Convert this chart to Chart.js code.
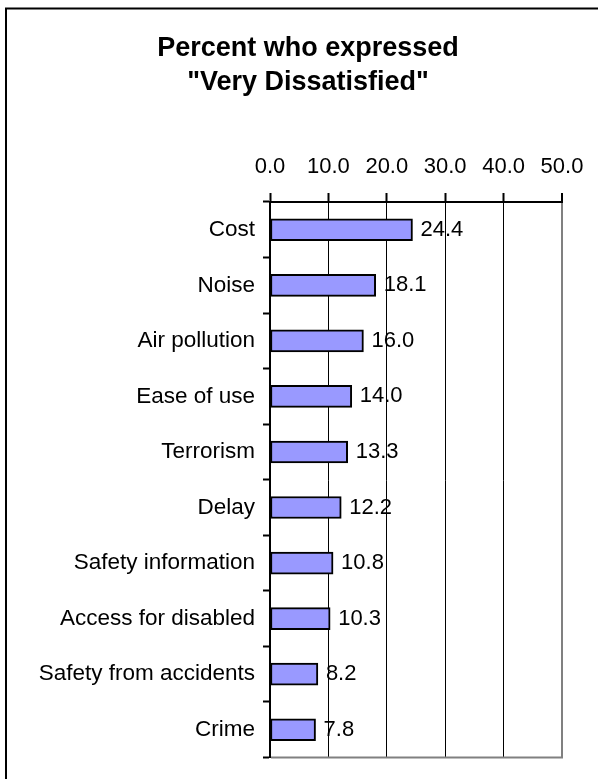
<!DOCTYPE html>
<html>
<head>
<meta charset="utf-8">
<script src="https://cdn.jsdelivr.net/npm/chart.js@4.4.1/dist/chart.umd.min.js"></script>
<style>
  html, body { margin: 0; padding: 0; background: #ffffff; overflow: hidden; }
  #wrap { width: 598px; height: 779px; position: relative; }
</style>
</head>
<body>
<div id="wrap"><canvas id="c" width="598" height="779"></canvas></div>
<script>
const titleLines = ['Percent who expressed', '"Very Dissatisfied"'];
const categories = ['Cost', 'Noise', 'Air pollution', 'Ease of use', 'Terrorism', 'Delay',
  'Safety information', 'Access for disabled', 'Safety from accidents', 'Crime'];
const values = [24.4, 18.1, 16.0, 14.0, 13.3, 12.2, 10.8, 10.3, 8.2, 7.8];
const axisMin = 0;
const axisMax = 50;
const axisStep = 10;

const FONT = "'Liberation Sans', Arial, Helvetica, sans-serif";

const frame = {
  id: 'frame',
  afterLayout(chart) {
    const t = chart.titleBlock;
    if (t) {
      t.left = 54;
      t.right = 562;
      t.width = 508;
    }
  },
  beforeDraw(chart) {
    const ctx = chart.ctx;
    ctx.save();
    ctx.fillStyle = '#ffffff';
    ctx.fillRect(0, 0, chart.width, chart.height);
    ctx.strokeStyle = '#000000';
    ctx.lineWidth = 2;
    ctx.strokeRect(6, 8.5, 700, 900);
    ctx.restore();
  },
  afterDraw(chart) {
    const ctx = chart.ctx;
    const a = chart.chartArea;
    ctx.save();
    ctx.strokeStyle = '#808080';
    ctx.lineWidth = 2;
    ctx.beginPath();
    ctx.moveTo(a.left + 1, a.bottom);
    ctx.lineTo(a.right + 1, a.bottom);
    ctx.stroke();
    ctx.restore();
  }
};

const valueLabels = {
  id: 'valueLabels',
  afterDatasetsDraw(chart) {
    const ctx = chart.ctx;
    const meta = chart.getDatasetMeta(0);
    ctx.save();
    ctx.font = '22px ' + FONT;
    ctx.fillStyle = '#000000';
    ctx.textAlign = 'left';
    ctx.textBaseline = 'middle';
    meta.data.forEach((bar, i) => {
      ctx.fillText(values[i].toFixed(1), bar.x + 8, bar.y);
    });
    ctx.restore();
  }
};

new Chart(document.getElementById('c'), {
  type: 'bar',
  data: {
    labels: categories,
    datasets: [{
      data: values,
      backgroundColor: '#9999FF',
      borderColor: '#000000',
      borderWidth: 2,
      borderSkipped: false,
      barThickness: 22
    }]
  },
  options: {
    indexAxis: 'y',
    responsive: false,
    animation: false,
    devicePixelRatio: 1,
    layout: { padding: { left: 0, right: 36, top: 0, bottom: 17 } },
    plugins: {
      legend: { display: false },
      tooltip: { enabled: false },
      title: {
        display: true,
        text: titleLines,
        color: '#000000',
        font: { family: FONT, size: 27, weight: 'bold', lineHeight: 1.27 },
        padding: { top: 31, bottom: 0 }
      }
    },
    scales: {
      x: {
        position: 'top',
        min: axisMin,
        max: axisMax,
        afterFit(scale) { scale.height = 102.4; },
        ticks: {
          stepSize: axisStep,
          color: '#000000',
          padding: 13,
          font: { family: FONT, size: 22 },
          callback: (v) => Number(v).toFixed(1)
        },
        grid: {
          color: (ctx) => (ctx.tick && ctx.tick.value === axisMax) ? '#808080' : '#000000',
          lineWidth: (ctx) => (ctx.tick && ctx.tick.value === axisMax) ? 2 : 1,
          tickColor: '#000000',
          tickWidth: 2,
          tickLength: 9
        },
        border: { display: true, color: '#000000', width: 2 }
      },
      y: {
        position: 'left',
        afterFit(scale) { scale.width = 270; },
        ticks: {
          color: '#000000',
          padding: 8,
          font: { family: FONT, size: 22.5 }
        },
        grid: {
          offset: true,
          drawOnChartArea: false,
          tickColor: '#000000',
          tickWidth: 2,
          tickLength: 7
        },
        border: { display: true, color: '#000000', width: 2 }
      }
    }
  },
  plugins: [frame, valueLabels]
});
</script>
</body>
</html>
